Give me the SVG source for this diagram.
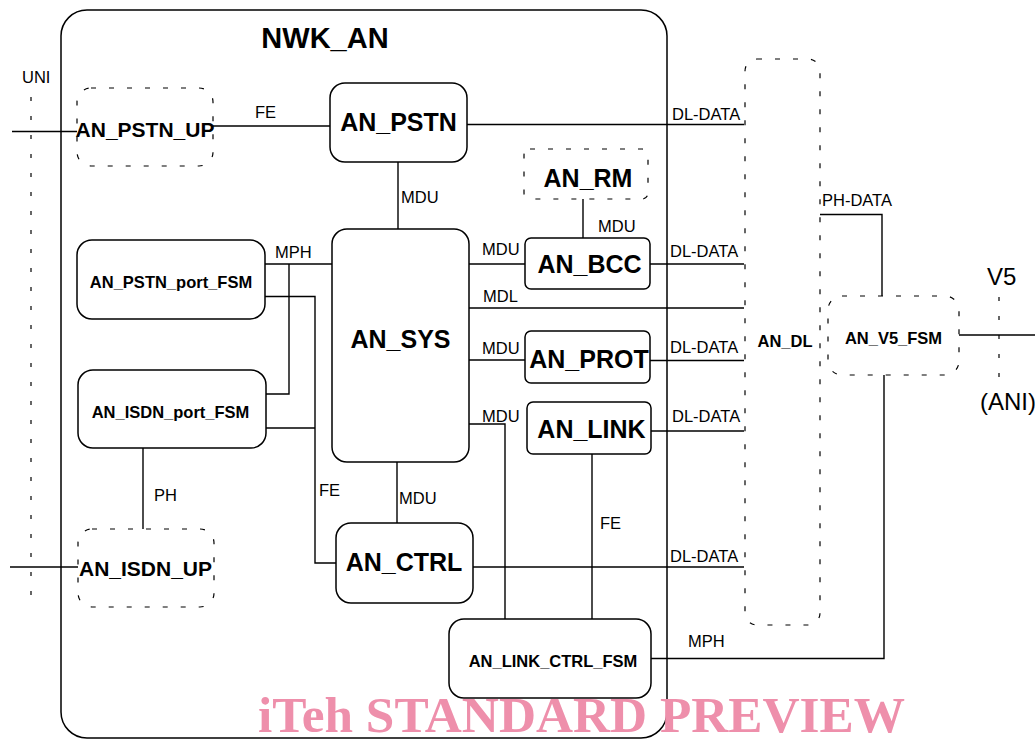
<svg xmlns="http://www.w3.org/2000/svg" width="1035" height="740" viewBox="0 0 1035 740">
<style>
.box{fill:#fff;stroke:#000;stroke-width:1.5}
.dbox{fill:none;stroke:#000;stroke-width:1.2;stroke-dasharray:5 13}
.dot{fill:none;stroke:#000;stroke-width:1.2;stroke-dasharray:4 15}
.ln{fill:none;stroke:#000;stroke-width:1.4}
.big{font-family:"Liberation Sans",Arial,sans-serif;font-weight:bold;font-size:25px;text-anchor:middle}
.mid{font-family:"Liberation Sans",Arial,sans-serif;font-weight:bold;font-size:21px;text-anchor:middle}
.sm{font-family:"Liberation Sans",Arial,sans-serif;font-weight:bold;font-size:16.5px;text-anchor:middle}
.lbl{font-family:"Liberation Sans",Arial,sans-serif;font-size:16.5px}
.iface{font-family:"Liberation Sans",Arial,sans-serif;font-size:24px}
</style>
<rect width="1035" height="740" fill="#fff"/>
<g id="NWK_AN">
<rect x="61" y="10" width="606" height="728" rx="26" class="box" fill="none"/>
<text x="325" y="48" font-family="Liberation Sans,Arial,sans-serif" font-weight="bold" font-size="29" text-anchor="middle">NWK_AN</text>
</g>
<g id="interfaces">
<line x1="31" y1="97" x2="31" y2="610" class="dot"/>
<text x="22" y="83" class="lbl">UNI</text>
<line x1="999" y1="297" x2="999" y2="378" class="dot"/>
<text x="987" y="285" class="iface">V5</text>
<text x="980" y="410" class="iface">(ANI)</text>
</g>
<g id="connectors">
<line x1="12" y1="131.5" x2="77" y2="131.5" class="ln"/>
<line x1="213" y1="126" x2="330" y2="126" class="ln"/>
<line x1="467" y1="124.5" x2="744" y2="124.5" class="ln"/>
<line x1="398" y1="162" x2="398" y2="229" class="ln"/>
<line x1="583" y1="199" x2="583" y2="238" class="ln"/>
<line x1="469" y1="264" x2="525" y2="264" class="ln"/>
<line x1="650" y1="264" x2="744" y2="264" class="ln"/>
<line x1="469" y1="308" x2="744" y2="308" class="ln"/>
<line x1="469" y1="360" x2="525" y2="360" class="ln"/>
<line x1="650" y1="360.5" x2="744" y2="360.5" class="ln"/>
<polyline points="469,424 505,424 505,619" class="ln"/>
<line x1="651" y1="431" x2="744" y2="431" class="ln"/>
<line x1="592" y1="454" x2="592" y2="619" class="ln"/>
<line x1="397" y1="462" x2="397" y2="523" class="ln"/>
<line x1="473" y1="567" x2="744" y2="567" class="ln"/>
<polyline points="651,658.5 884,658.5 884,375" class="ln"/>
<polyline points="820,214.5 882,214.5 882,296" class="ln"/>
<line x1="959" y1="335" x2="1035" y2="335" class="ln"/>
<line x1="265" y1="264" x2="332" y2="264" class="ln"/>
<polyline points="289,264 289,394 265,394" class="ln"/>
<polyline points="265,296.5 315,296.5 315,563 336,563" class="ln"/>
<line x1="266" y1="428" x2="315" y2="428" class="ln"/>
<line x1="143" y1="448" x2="143" y2="529" class="ln"/>
<line x1="10" y1="567" x2="78" y2="567" class="ln"/>
<text x="255" y="118" class="lbl">FE</text>
<text x="672" y="120" class="lbl">DL-DATA</text>
<text x="401" y="203" class="lbl">MDU</text>
<text x="598" y="232" class="lbl">MDU</text>
<text x="482" y="255" class="lbl">MDU</text>
<text x="670" y="257" class="lbl">DL-DATA</text>
<text x="483" y="302" class="lbl">MDL</text>
<text x="482" y="354" class="lbl">MDU</text>
<text x="670" y="353" class="lbl">DL-DATA</text>
<text x="482" y="422" class="lbl">MDU</text>
<text x="672" y="422" class="lbl">DL-DATA</text>
<text x="275" y="258" class="lbl">MPH</text>
<text x="319" y="496" class="lbl">FE</text>
<text x="154" y="501" class="lbl">PH</text>
<text x="399" y="504" class="lbl">MDU</text>
<text x="600" y="529" class="lbl">FE</text>
<text x="670" y="562" class="lbl">DL-DATA</text>
<text x="688" y="647" class="lbl">MPH</text>
<text x="822" y="206" class="lbl">PH-DATA</text>
</g>
<g id="AN_PSTN_UP">
<rect x="77" y="88" width="136" height="78" rx="14" class="dbox"/>
<text x="145" y="137" class="mid">AN_PSTN_UP</text>
</g>
<g id="AN_PSTN">
<rect x="330" y="83" width="137" height="79" rx="15" class="box"/>
<text x="398.5" y="131" class="big">AN_PSTN</text>
</g>
<g id="AN_RM">
<rect x="524" y="149" width="124" height="50" rx="6" class="dbox"/>
<text x="588" y="187" class="big">AN_RM</text>
</g>
<g id="AN_BCC">
<rect x="525" y="238" width="125" height="51" rx="6" class="box"/>
<text x="589.5" y="273" class="big">AN_BCC</text>
</g>
<g id="AN_SYS">
<rect x="332" y="229" width="137" height="233" rx="15" class="box"/>
<text x="400.5" y="348" class="big">AN_SYS</text>
</g>
<g id="AN_PROT">
<rect x="525" y="331" width="125" height="52" rx="6" class="box"/>
<text x="589" y="368" class="big">AN_PROT</text>
</g>
<g id="AN_LINK">
<rect x="527" y="402" width="124" height="52" rx="6" class="box"/>
<text x="591.5" y="438" class="big">AN_LINK</text>
</g>
<g id="AN_CTRL">
<rect x="336" y="523" width="137" height="80" rx="15" class="box"/>
<text x="404" y="571" class="big">AN_CTRL</text>
</g>
<g id="AN_LINK_CTRL_FSM">
<rect x="449" y="619" width="202" height="79" rx="15" class="box"/>
<text x="553" y="667" class="sm">AN_LINK_CTRL_FSM</text>
</g>
<g id="AN_PSTN_port_FSM">
<rect x="77" y="240" width="188" height="79" rx="15" class="box"/>
<text x="171" y="288" class="sm">AN_PSTN_port_FSM</text>
</g>
<g id="AN_ISDN_port_FSM">
<rect x="78" y="370" width="188" height="78" rx="15" class="box"/>
<text x="170.5" y="418" class="sm">AN_ISDN_port_FSM</text>
</g>
<g id="AN_ISDN_UP">
<rect x="78" y="529" width="136" height="78" rx="14" class="dbox"/>
<text x="145.5" y="576" class="mid">AN_ISDN_UP</text>
</g>
<g id="AN_DL">
<rect x="745" y="59" width="75" height="566" rx="12" class="dbox"/>
<text x="785" y="347" class="sm">AN_DL</text>
</g>
<g id="AN_V5_FSM">
<rect x="828" y="296" width="131" height="79" rx="14" class="dbox"/>
<text x="893.5" y="344" class="sm">AN_V5_FSM</text>
</g>
<text x="258" y="732" font-family="Liberation Serif,Times New Roman,serif" font-weight="bold" font-size="51" fill="#EE8FAB" textLength="647" lengthAdjust="spacingAndGlyphs">iTeh STANDARD PREVIEW</text>
</svg>
